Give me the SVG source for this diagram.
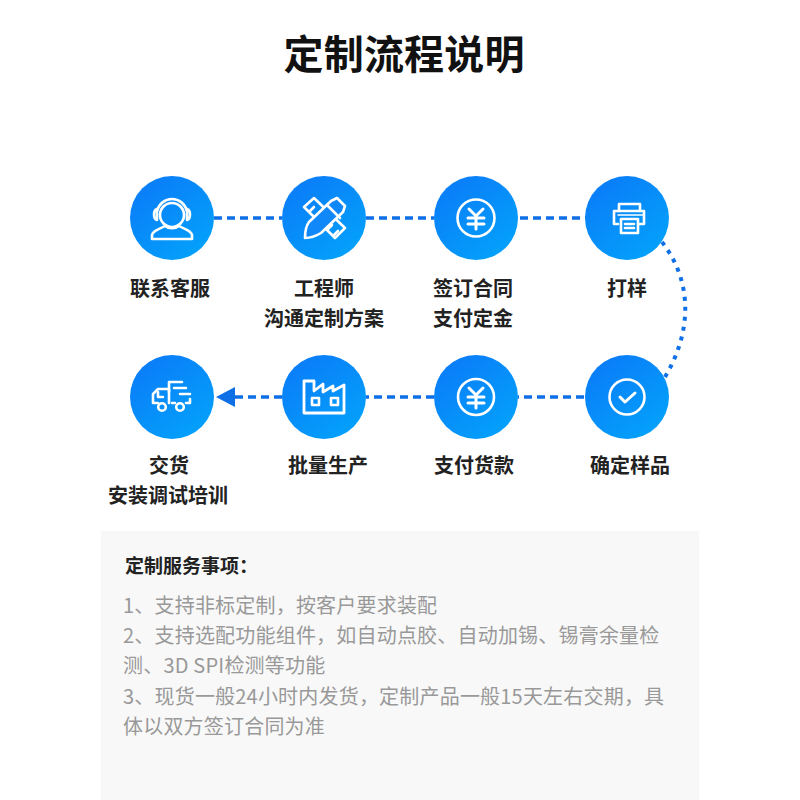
<svg xmlns="http://www.w3.org/2000/svg" width="800" height="800" viewBox="0 0 800 800">
<style>
text{font-family:"Noto Sans CJK SC","Noto Sans",sans-serif}
.t{font-size:20px;font-weight:700;fill:#222;text-anchor:middle}
.b{font-size:20px;fill:#999;letter-spacing:.2px}
.c{fill:url(#g)}
.i{fill:none;stroke:#fff;stroke-width:2.6;stroke-linejoin:round;stroke-linecap:round}
.d{fill:none;stroke:#0f6fe6;stroke-width:3.5;stroke-dasharray:8 5}
.o{fill:none;stroke:#0f6fe6;stroke-width:4;stroke-dasharray:4 6}
</style>
<defs>
<linearGradient id="g" x1="0.2" y1="0.1" x2="0.85" y2="0.95"><stop offset="0" stop-color="#0a7ef8"/><stop offset="1" stop-color="#03a2fb"/></linearGradient>
</defs>
<rect width="800" height="800" fill="#fff"/>
<text x="404" y="69" text-anchor="middle" font-size="40" font-weight="700" fill="#111" textLength="241">定制流程说明</text>
<g id="connectors">
<path class="d" d="M214 218H282"/>
<path class="d" d="M366 218H434"/>
<path class="d" d="M520 218H586"/>
<path class="o" d="M662 242C695 285 690 335 665 377"/>
<path class="d" d="M584 397H518"/>
<path class="d" d="M434 397H366"/>
<path class="d" d="M282 397H234"/>
<path d="M216 397L235 387V407Z" fill="#0f6fe6"/>
</g>
<g id="n1"><circle class="c" cx="172" cy="218" r="42"/>
<g class="i"><circle cx="172" cy="215" r="12"/><path d="M157 211A15.500 16 0 0 1 187 211"/><path d="M157 209C153 210 153 219 157 220Z"/><path d="M187 209C191 210 191 219 187 220Z"/><path d="M152 239V235C153 230 160 229 165 226C169 229 175 229 179 226C184 229 191 230 192 235V239Z"/></g>
<text class="t" x="170" y="296">联系客服</text></g>
<g id="n2"><circle class="c" cx="324" cy="218" r="42"/>
<g class="i"><path d="M304 207L314 198L345 228L335 238Z"/><path d="M310 211L314 207M328 229L332 225M334 235L338 231"/><path d="M305 238C305 231 306 226 309 222L331 201L337 198L345 206L343 212L321 233C316 236 312 238 305 238Z" fill="#1188fa"/><path d="M327 205L340 218"/></g>
<text class="t" x="324" y="296">工程师</text><text class="t" x="324" y="326">沟通定制方案</text></g>
<g id="n3"><circle class="c" cx="476" cy="218" r="42"/>
<g class="i"><circle cx="476" cy="218" r="18.500"/><path d="M469 209L476 216L483 209M468 218H484M468 224H484M476 216V229" stroke-width="3"/></g>
<text class="t" x="473" y="296">签订合同</text><text class="t" x="473" y="326">支付定金</text></g>
<g id="n4"><circle class="c" cx="627" cy="218" r="42"/>
<g class="i"><path d="M619 211V204H640V211"/><path d="M618 224H614V211H644V224H638"/><path d="M618 215H644" stroke-width="1.500"/><rect x="621" y="219" width="17" height="14"/><path d="M625 224H634M625 228H634"/></g>
<text class="t" x="627" y="296">打样</text></g>
<g id="n5"><circle class="c" cx="627" cy="397" r="42"/>
<g class="i"><circle cx="627" cy="397" r="17.500"/><path d="M620 397L625 402L635 393" stroke-width="3"/></g>
<text class="t" x="630" y="473">确定样品</text></g>
<g id="n6"><circle class="c" cx="476" cy="397" r="42"/>
<g class="i"><circle cx="476" cy="397" r="18"/><path d="M469 388L476 395L483 388M468 397H484M468 403H484M476 395V408" stroke-width="3"/></g>
<text class="t" x="474" y="473">支付货款</text></g>
<g id="n7"><circle class="c" cx="324" cy="397" r="42"/>
<g class="i" stroke-linecap="square"><path d="M304 381H314V391L323 384V392L333 386V391L344 385V413H304Z" stroke-width="2.800"/><rect x="312" y="398" width="7" height="7"/><rect x="331" y="398" width="7" height="7"/></g>
<text class="t" x="328" y="473">批量生产</text></g>
<g id="n8"><circle class="c" cx="172" cy="397" r="42"/>
<g class="i" stroke-width="2.200"><path d="M169 392V382H182M174 388H186M180 394H190"/><path d="M186 403H190V399M186 403H187M172 403H175M158 403H153V394L158 389H169V403"/><path d="M158 392V397H163"/><circle cx="162" cy="407" r="3.800"/><circle cx="180" cy="407" r="3.800"/></g>
<text class="t" x="169" y="473">交货</text><text class="t" x="168" y="503">安装调试培训</text></g>
<g id="panel"><rect x="101" y="531" width="598" height="269" fill="#f8f8f8"/>
<text x="125" y="573" font-size="19" font-weight="700" fill="#222">定制服务事项：</text>
<text class="b" x="123" y="613">1、支持非标定制，按客户要求装配</text>
<text class="b" x="123" y="643">2、支持选配功能组件，如自动点胶、自动加锡、锡膏余量检</text>
<text class="b" x="123" y="673">测、3D SPI检测等功能</text>
<text class="b" x="123" y="704">3、现货一般24小时内发货，定制产品一般15天左右交期，具</text>
<text class="b" x="123" y="734">体以双方签订合同为准</text></g>
</svg>
